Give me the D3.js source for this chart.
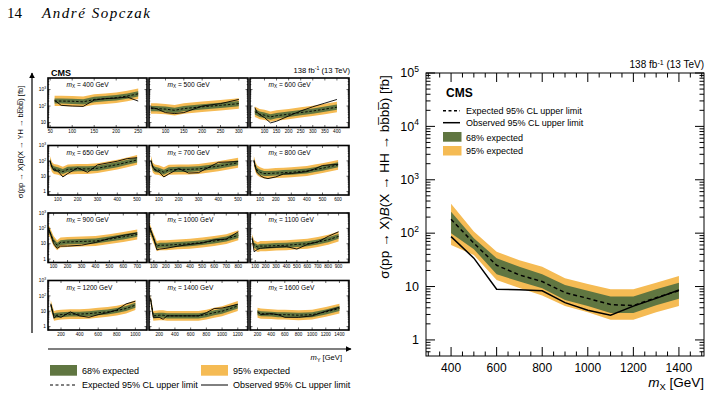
<!DOCTYPE html>
<html>
<head>
<meta charset="utf-8">
<script src="https://cdn.jsdelivr.net/npm/d3@7"></script>
<style>
body{margin:0;background:#fff;}
svg text{font-family:"Liberation Sans",Arial,Helvetica,sans-serif;fill:#000;}
</style>
</head>
<body>
<svg id="fig" width="711" height="397"></svg>
<script>
"use strict";

var COL68 = "#607641";   // 68% band
var COL95 = "#F5BB54";   // 95% band

// ---------- right plot: X -> HH -> bbbb ----------
var mainMX   = [400, 500, 600, 700, 800, 900, 1000, 1100, 1200, 1300, 1400];
var mainExp  = [182, 65, 25, 16.5, 12.4, 7.7, 6.0, 4.6, 4.4, 6.2, 8.4];
var mainObs  = [86, 34, 8.9, 8.7, 8.3, 5.0, 3.6, 2.9, 4.3, 6.0, 8.6];
var main68Lo = [100, 50, 17, 12.4, 9.3, 5.6, 4.3, 3.2, 3.2, 4.45, 5.9];
var main68Hi = [253, 80, 34, 23.6, 17, 10.7, 8.3, 6.5, 6.5, 8.9, 11.8];
var main95Lo = [60, 39, 13.3, 9.4, 6.8, 4.3, 3.3, 2.4, 2.4, 3.3, 4.3];
var main95Hi = [355, 107, 45, 31, 23.6, 14.3, 11.2, 8.9, 8.9, 11.8, 15.8];
var mainXTicks = [400, 600, 800, 1000, 1200, 1400];
var mainYTicks = [1, 10, 100, 1000, 10000, 100000];

// ---------- left plot: X -> YH -> bbbb, one entry per mX ----------
var smallMX = [400, 500, 600, 650, 700, 800, 900, 1000, 1100, 1200, 1400, 1600];
var smallMY = [
    [60, 75, 100, 125, 150, 175, 200, 225, 250],
    [60, 75, 100, 125, 150, 200, 250, 300],
    [60, 70, 80, 100, 125, 150, 200, 250, 300, 350, 400],
    [60, 70, 80, 100, 125, 150, 200, 250, 300, 400, 450, 500],
    [60, 70, 80, 100, 125, 150, 200, 250, 300, 400, 500],
    [60, 70, 80, 100, 125, 150, 200, 250, 300, 400, 450, 500, 600],
    [60, 80, 100, 125, 150, 200, 300, 400, 500, 600, 700],
    [60, 80, 100, 125, 150, 200, 300, 400, 500, 600, 700, 800],
    [70, 90, 125, 150, 200, 300, 400, 500, 600, 700, 800, 900],
    [90, 125, 150, 200, 300, 400, 500, 600, 700, 800, 900, 1000],
    [90, 125, 200, 250, 300, 500, 700, 800, 900, 1000, 1200],
    [200, 250, 400, 500, 600, 800, 1000, 1200, 1400]
];
var smallExp = [
    [200, 200, 195, 180, 250, 280, 320, 400, 550],
    [70, 70, 65, 55, 70, 90, 110, 140],
    [45, 38, 32, 28, 22, 26, 32, 40, 50, 65, 85],
    [95, 40, 30, 26, 20, 28, 30, 30, 33, 57, 80, 115],
    [100, 35, 28, 25, 18, 26, 28, 28, 30, 45, 75],
    [100, 40, 25, 18, 15, 15, 16, 17, 18, 22, 27, 33, 55],
    [100, 40, 15, 8, 12, 13, 14, 15, 20, 28, 40],
    [130, 50, 20, 7, 8, 8, 9, 10, 12, 15, 20, 35],
    [20, 8, 6, 7, 7, 7.5, 8, 9, 10, 13, 18, 30],
    [25, 5, 5.5, 6, 6.5, 6.5, 7, 8, 9, 11, 15, 25],
    [60, 5, 5.5, 5.5, 5, 5, 5, 6, 8, 10, 22],
    [8, 7, 6.5, 6, 6, 5.5, 6, 9, 15]
];
var smallObs = [
    [220, 110, 100, 95, 230, 280, 300, 350, 200],
    [80, 70, 40, 35, 40, 100, 140, 250],
    [80, 40, 30, 20, 9.5, 12, 25, 50, 90, 150, 250],
    [100, 40, 25, 22, 9, 15, 35, 18, 55, 95, 140, 160],
    [100, 40, 25, 20, 9, 14, 32, 16, 17, 80, 90],
    [110, 35, 18, 11, 8, 7, 9, 14, 15, 20, 30, 50, 60],
    [120, 40, 10, 5, 7, 7, 8, 12, 22, 35, 50],
    [150, 60, 20, 4, 4.5, 5, 7, 9, 11, 18, 20, 60],
    [25, 3, 4.5, 5, 5.5, 6, 6.5, 4.5, 9, 13, 30, 60],
    [30, 3.5, 5, 4, 9, 5, 4, 6, 8, 12, 30, 45],
    [70, 4, 4, 3, 5, 5, 5, 8, 15, 16, 28],
    [10, 6, 7, 6, 4, 4, 5, 10, 18]
];
var small68Lo = [
    [140, 140, 135, 125, 170, 195, 220, 280, 380],
    [48, 48, 45, 38, 48, 62, 76, 97],
    [31, 26, 22, 19, 15, 18, 22, 28, 34, 45, 59],
    [66, 28, 21, 18, 14, 19, 21, 21, 23, 39, 55, 79],
    [69, 24, 19, 17, 12.4, 18, 19, 19, 21, 31, 52],
    [69, 28, 17, 12.4, 10.3, 10.3, 11, 12, 12.4, 15, 19, 23, 38],
    [69, 28, 10.3, 5.5, 8.3, 9, 9.7, 10.3, 14, 19, 28],
    [90, 34, 14, 4.8, 5.5, 5.5, 6.2, 6.9, 8.3, 10.3, 14, 24],
    [14, 5.5, 4.1, 4.8, 4.8, 5.2, 5.5, 6.2, 6.9, 9, 12.4, 21],
    [17, 3.4, 3.8, 4.1, 4.5, 4.5, 4.8, 5.5, 6.2, 7.6, 10.3, 17],
    [41, 3.4, 3.8, 3.8, 3.4, 3.4, 3.4, 4.1, 5.5, 6.9, 15],
    [5.5, 4.8, 4.5, 4.1, 4.1, 3.8, 4.1, 6.2, 10.3]
];
var small68Hi = [
    [290, 290, 280, 260, 360, 400, 460, 580, 800],
    [100, 100, 95, 80, 100, 130, 160, 200],
    [65, 55, 46, 40, 32, 38, 46, 58, 72, 94, 123],
    [138, 58, 44, 38, 29, 41, 44, 44, 48, 83, 116, 167],
    [145, 51, 41, 36, 26, 38, 41, 41, 44, 65, 109],
    [145, 58, 36, 26, 22, 22, 23, 25, 26, 32, 39, 48, 80],
    [145, 58, 22, 11.6, 17, 19, 20, 22, 29, 41, 58],
    [190, 72, 29, 10, 11.6, 11.6, 13, 14.5, 17, 22, 29, 51],
    [29, 11.6, 8.7, 10, 10, 11, 11.6, 13, 14.5, 19, 26, 43],
    [36, 7.3, 8, 8.7, 9.4, 9.4, 10, 11.6, 13, 16, 22, 36],
    [87, 7.3, 8, 8, 7.3, 7.3, 7.3, 8.7, 11.6, 14.5, 32],
    [11.6, 10, 9.4, 8.7, 8.7, 8, 8.7, 13, 22]
];
var small95Lo = [
    [100, 100, 95, 90, 120, 135, 155, 195, 270],
    [34, 34, 32, 27, 34, 44, 54, 68],
    [22, 19, 16, 14, 11, 13, 16, 20, 25, 32, 42],
    [45, 19, 14, 12.4, 9.5, 13, 14, 14, 16, 27, 38, 55],
    [48, 17, 13, 12, 8.6, 12.4, 13, 13, 14, 21, 36],
    [48, 19, 12, 8.6, 7.1, 7.1, 7.6, 8.1, 8.6, 10.5, 13, 16, 26],
    [48, 19, 7.1, 3.8, 5.7, 6.2, 6.7, 7.1, 9.5, 13, 19],
    [62, 24, 9.5, 3.3, 3.8, 3.8, 4.3, 4.8, 5.7, 7.1, 9.5, 17],
    [9.5, 3.8, 2.9, 3.3, 3.3, 3.6, 3.8, 4.3, 4.8, 6.2, 8.6, 14],
    [12, 2.4, 2.6, 2.9, 3.1, 3.1, 3.3, 3.8, 4.3, 5.2, 7.1, 12],
    [29, 2.4, 2.6, 2.6, 2.4, 2.4, 2.4, 2.9, 3.8, 4.8, 10.5],
    [3.8, 3.3, 3.1, 2.9, 2.9, 2.6, 2.9, 4.3, 7.1]
];
var small95Hi = [
    [420, 420, 400, 380, 520, 580, 670, 840, 1150],
    [145, 145, 135, 115, 145, 190, 230, 300],
    [95, 80, 67, 59, 46, 55, 67, 84, 105, 136, 180],
    [200, 84, 63, 55, 42, 59, 63, 63, 69, 120, 168, 240],
    [210, 74, 59, 52, 38, 55, 59, 59, 63, 95, 158],
    [210, 84, 52, 38, 31, 31, 34, 36, 38, 46, 57, 69, 115],
    [210, 84, 32, 17, 25, 27, 29, 32, 42, 59, 84],
    [270, 105, 42, 15, 17, 17, 19, 21, 25, 32, 42, 74],
    [42, 17, 12.6, 15, 15, 16, 17, 19, 21, 27, 38, 63],
    [52, 10.5, 11.5, 12.6, 13.6, 13.6, 14.7, 17, 19, 23, 31, 52],
    [125, 10.5, 11.5, 11.5, 10.5, 10.5, 10.5, 12.6, 17, 21, 46],
    [17, 15, 13.6, 12.6, 12.6, 11.5, 12.6, 19, 31]
];
var smallXDomain = [
    [45, 270], [55, 325], [40, 450],
    [50, 550], [50, 550], [35, 670],
    [60, 770], [60, 880], [50, 1000],
    [60, 1125], [70, 1330], [90, 1540]
];
var smallXTicks = [
    [50, 100, 150, 200, 250], [100, 150, 200, 250, 300], [100, 150, 200, 250, 300, 350, 400],
    [100, 200, 300, 400, 500], [100, 200, 300, 400, 500], [100, 200, 300, 400, 500, 600],
    [100, 200, 300, 400, 500, 600, 700], [100, 200, 300, 400, 500, 600, 700, 800],
    [100, 200, 300, 400, 500, 600, 700, 800, 900],
    [200, 400, 600, 800, 1000], [200, 400, 600, 800, 1000, 1200],
    [200, 400, 600, 800, 1000, 1200, 1400]
];
var smallYDomainTop = [5, 5000];      // first row
var smallYDomain = [0.6, 1000];       // other rows
var smallYTicksTop = [10, 100, 1000];
var smallYTicks = [1, 10, 100, 1000];

var svg = d3.select("#fig");

/**
 * 10^n 形式的刻度文字
 */
function powLabel(sel, v, fs) {
    if (v < 100) {
        sel.text(String(v));
        return;
    }
    var n = Math.round(Math.log10(v));
    sel.text("10");
    sel.append("tspan").attr("dy", -fs * 0.42).attr("font-size", fs * 0.68).text(n);
}

function minorLogTicks(domain) {
    var out = [];
    for (var e = -1; e <= 5; e++) {
        for (var k = 2; k <= 9; k++) {
            var v = k * Math.pow(10, e);
            if (v > domain[0] && v < domain[1]) out.push(v);
        }
    }
    return out;
}

// 轴标题  m_X [GeV] 之类
function massTitle(sel, sub, rest) {
    sel.append("tspan").attr("font-style", "italic").text("m");
    sel.append("tspan").attr("font-size", "0.7em").attr("dy", "0.3em").text(sub);
    sel.append("tspan").attr("dy", "-0.21em").text(rest);
}

// ---------- page header ----------
svg.append("text").attr("x", 7).attr("y", 18)
    .style("font-family", "'Liberation Serif',serif").attr("font-size", 15).text("14");
svg.append("text").attr("x", 42).attr("y", 18)
    .style("font-family", "'Liberation Serif',serif").attr("font-size", 15)
    .attr("font-style", "italic").attr("textLength", 108).attr("lengthAdjust", "spacing")
    .text("André Sopczak");

// ---------- left figure ----------
var colLeft = [48, 149, 250];
var rowTop = [78, 145.5, 213, 280.5];
var pw = 99, ph = 49.5;

function drawSmallPanel(i) {
    var col = i % 3, row = Math.floor(i / 3);
    var x0 = colLeft[col], y0 = rowTop[row];
    var yDom = row === 0 ? smallYDomainTop : smallYDomain;
    var x = d3.scaleLinear().domain(smallXDomain[i]).range([x0, x0 + pw]);
    var y = d3.scaleLog().domain(yDom).range([y0 + ph, y0]);

    var g = svg.append("g").attr("class", "panel");
    var clipId = "clip" + i;
    g.append("clipPath").attr("id", clipId).append("rect")
        .attr("x", x0).attr("y", y0).attr("width", pw).attr("height", ph);

    var pts = smallMY[i].map(function(m, j) {
        return {m: m, exp: smallExp[i][j], obs: smallObs[i][j],
            lo68: small68Lo[i][j], hi68: small68Hi[i][j],
            lo95: small95Lo[i][j], hi95: small95Hi[i][j]};
    });
    var inner = g.append("g").attr("clip-path", "url(#" + clipId + ")");
    inner.append("path").datum(pts).attr("fill", COL95)
        .attr("d", d3.area().x(function(d) { return x(d.m); })
            .y0(function(d) { return y(d.lo95); }).y1(function(d) { return y(d.hi95); }));
    inner.append("path").datum(pts).attr("fill", COL68)
        .attr("d", d3.area().x(function(d) { return x(d.m); })
            .y0(function(d) { return y(d.lo68); }).y1(function(d) { return y(d.hi68); }));
    inner.append("path").datum(pts).attr("fill", "none").attr("stroke", "#000")
        .attr("stroke-width", 0.9).attr("stroke-dasharray", "2.5,1.8")
        .attr("d", d3.line().x(function(d) { return x(d.m); }).y(function(d) { return y(d.exp); }));
    inner.append("path").datum(pts).attr("fill", "none").attr("stroke", "#000")
        .attr("stroke-width", 0.9)
        .attr("d", d3.line().x(function(d) { return x(d.m); }).y(function(d) { return y(d.obs); }));

    // ticks
    var tk = g.append("g").attr("stroke", "#000").attr("stroke-width", 0.6);
    smallXTicks[i].forEach(function(t) {
        tk.append("line").attr("x1", x(t)).attr("x2", x(t)).attr("y1", y0 + ph).attr("y2", y0 + ph - 2.5);
        tk.append("line").attr("x1", x(t)).attr("x2", x(t)).attr("y1", y0).attr("y2", y0 + 2.5);
    });
    var yt = row === 0 ? smallYTicksTop : smallYTicks;
    yt.forEach(function(t) {
        tk.append("line").attr("x1", x0).attr("x2", x0 + 2.5).attr("y1", y(t)).attr("y2", y(t));
        tk.append("line").attr("x1", x0 + pw).attr("x2", x0 + pw - 2.5).attr("y1", y(t)).attr("y2", y(t));
    });
    minorLogTicks(yDom).forEach(function(t) {
        tk.append("line").attr("x1", x0).attr("x2", x0 + 1.3).attr("y1", y(t)).attr("y2", y(t));
        tk.append("line").attr("x1", x0 + pw).attr("x2", x0 + pw - 1.3).attr("y1", y(t)).attr("y2", y(t));
    });

    g.append("rect").attr("x", x0).attr("y", y0).attr("width", pw).attr("height", ph)
        .attr("fill", "none").attr("stroke", "#000").attr("stroke-width", 1.6);

    // x tick labels
    smallXTicks[i].forEach(function(t) {
        g.append("text").attr("x", x(t)).attr("y", y0 + ph + 5.5)
            .attr("text-anchor", "middle").attr("font-size", 4.6).text(t);
    });
    // y tick labels, first column only
    if (col === 0) {
        yt.forEach(function(t) {
            g.append("text").attr("x", x0 - 2).attr("y", y(t) + 1.7)
                .attr("text-anchor", "end").attr("font-size", 4.8)
                .call(powLabel, t, 4.8);
        });
    }
    // mX label
    g.append("text").attr("x", x0 + 18.5).attr("y", y0 + 9).attr("font-size", 6.6)
        .call(massTitle, "X", " = " + smallMX[i] + " GeV");
}

for (var i = 0; i < smallMX.length; i++) {
    drawSmallPanel(i);
}

svg.append("text").attr("x", 51).attr("y", 76).attr("font-size", 9).attr("font-weight", "bold").text("CMS");
svg.append("text").attr("x", 350).attr("y", 73).attr("font-size", 7.6).attr("text-anchor", "end")
    .call(function(s) {
        s.append("tspan").text("138 fb");
        s.append("tspan").attr("dy", -2.6).attr("font-size", 5.2).text("-1");
        s.append("tspan").attr("dy", 2.6).text(" (13 TeV)");
    });

// arrows
var defs = svg.append("defs");
defs.append("marker").attr("id", "arr").attr("viewBox", "0 0 10 10").attr("refX", 9).attr("refY", 5)
    .attr("markerWidth", 5).attr("markerHeight", 5).attr("orient", "auto")
    .append("path").attr("d", "M0,0 L10,5 L0,10 Z").attr("fill", "#000");
svg.append("line").attr("x1", 32).attr("y1", 333).attr("x2", 32).attr("y2", 73)
    .attr("stroke", "#000").attr("stroke-width", 1.2).attr("marker-end", "url(#arr)");
svg.append("line").attr("x1", 48).attr("y1", 349).attr("x2", 351).attr("y2", 349)
    .attr("stroke", "#000").attr("stroke-width", 1.2).attr("marker-end", "url(#arr)");

svg.append("text").attr("transform", "translate(23,142) rotate(-90)").attr("text-anchor", "middle")
    .attr("font-size", 7.5)
    .call(function(s) {
        s.append("tspan").text("σ(pp → X)");
        s.append("tspan").attr("font-style", "italic").text("B");
        s.append("tspan").text("(X → YH → bb\u0305bb\u0305) [fb]");
    });
svg.append("text").attr("x", 342).attr("y", 360).attr("text-anchor", "end").attr("font-size", 7.6)
    .call(massTitle, "Y", " [GeV]");

// left legend
var legL = svg.append("g");
legL.append("rect").attr("x", 50).attr("y", 365).attr("width", 27).attr("height", 10.7).attr("fill", COL68);
legL.append("text").attr("x", 82).attr("y", 374).attr("font-size", 9).text("68% expected");
legL.append("rect").attr("x", 201).attr("y", 365).attr("width", 27).attr("height", 10.7).attr("fill", COL95);
legL.append("text").attr("x", 233).attr("y", 374).attr("font-size", 9).text("95% expected");
legL.append("line").attr("x1", 50).attr("x2", 77).attr("y1", 385).attr("y2", 385)
    .attr("stroke", "#000").attr("stroke-width", 1).attr("stroke-dasharray", "3,2.5");
legL.append("text").attr("x", 82).attr("y", 388).attr("font-size", 9).text("Expected 95% CL upper limit");
legL.append("line").attr("x1", 201).attr("x2", 228).attr("y1", 385).attr("y2", 385)
    .attr("stroke", "#000").attr("stroke-width", 1);
legL.append("text").attr("x", 233).attr("y", 388).attr("font-size", 9).text("Observed 95% CL upper limit");

// ---------- right figure ----------
var M = {left: 426, right: 704, top: 73, bottom: 356};
var xMain = d3.scaleLinear().domain([290, 1510]).range([M.left, M.right]);
var yMain = d3.scaleLog().domain([0.5, 1e5]).range([M.bottom, M.top]);

var mainPts = mainMX.map(function(m, j) {
    return {m: m, exp: mainExp[j], obs: mainObs[j], lo68: main68Lo[j], hi68: main68Hi[j],
        lo95: main95Lo[j], hi95: main95Hi[j]};
});
var gm = svg.append("g");
gm.append("path").datum(mainPts).attr("fill", COL95)
    .attr("d", d3.area().x(function(d) { return xMain(d.m); })
        .y0(function(d) { return yMain(d.lo95); }).y1(function(d) { return yMain(d.hi95); }));
gm.append("path").datum(mainPts).attr("fill", COL68)
    .attr("d", d3.area().x(function(d) { return xMain(d.m); })
        .y0(function(d) { return yMain(d.lo68); }).y1(function(d) { return yMain(d.hi68); }));
gm.append("path").datum(mainPts).attr("fill", "none").attr("stroke", "#000")
    .attr("stroke-width", 1.5).attr("stroke-dasharray", "4,3")
    .attr("d", d3.line().x(function(d) { return xMain(d.m); }).y(function(d) { return yMain(d.exp); }));
gm.append("path").datum(mainPts).attr("fill", "none").attr("stroke", "#000")
    .attr("stroke-width", 1.5)
    .attr("d", d3.line().x(function(d) { return xMain(d.m); }).y(function(d) { return yMain(d.obs); }));

// ticks on all four sides
var tm = gm.append("g").attr("stroke", "#000").attr("stroke-width", 1);
d3.range(300, 1501, 50).forEach(function(t) {
    var len = mainXTicks.indexOf(t) >= 0 ? 9 : 4.5;
    tm.append("line").attr("x1", xMain(t)).attr("x2", xMain(t)).attr("y1", M.bottom).attr("y2", M.bottom - len);
    tm.append("line").attr("x1", xMain(t)).attr("x2", xMain(t)).attr("y1", M.top).attr("y2", M.top + len);
});
mainYTicks.forEach(function(t) {
    tm.append("line").attr("x1", M.left).attr("x2", M.left + 9).attr("y1", yMain(t)).attr("y2", yMain(t));
    tm.append("line").attr("x1", M.right).attr("x2", M.right - 9).attr("y1", yMain(t)).attr("y2", yMain(t));
});
minorLogTicks([0.5, 1e5]).forEach(function(t) {
    tm.append("line").attr("x1", M.left).attr("x2", M.left + 4.5).attr("y1", yMain(t)).attr("y2", yMain(t));
    tm.append("line").attr("x1", M.right).attr("x2", M.right - 4.5).attr("y1", yMain(t)).attr("y2", yMain(t));
});
gm.append("rect").attr("x", M.left).attr("y", M.top).attr("width", M.right - M.left)
    .attr("height", M.bottom - M.top).attr("fill", "none").attr("stroke", "#000").attr("stroke-width", 1);

mainXTicks.forEach(function(t) {
    gm.append("text").attr("x", xMain(t)).attr("y", 372).attr("text-anchor", "middle")
        .attr("font-size", 12).text(t);
});
mainYTicks.forEach(function(t) {
    gm.append("text").attr("x", 419).attr("y", yMain(t) + 4.3).attr("text-anchor", "end")
        .attr("font-size", 12.5).call(powLabel, t, 12.5);
});
gm.append("text").attr("x", 704).attr("y", 387).attr("text-anchor", "end").attr("font-size", 13.5)
    .call(massTitle, "X", " [GeV]");
gm.append("text").attr("transform", "translate(389,177) rotate(-90)").attr("text-anchor", "middle")
    .attr("font-size", 13.5)
    .call(function(s) {
        s.append("tspan").text("σ(pp → X)");
        s.append("tspan").attr("font-style", "italic").text("B");
        s.append("tspan").text("(X → HH → bb\u0305bb\u0305) [fb]");
    });
gm.append("text").attr("x", 704).attr("y", 68).attr("text-anchor", "end").attr("font-size", 10)
    .call(function(s) {
        s.append("tspan").text("138 fb");
        s.append("tspan").attr("dy", -3.5).attr("font-size", 7).text("-1");
        s.append("tspan").attr("dy", 3.5).text(" (13 TeV)");
    });
gm.append("text").attr("x", 446).attr("y", 97).attr("font-size", 12).attr("font-weight", "bold").text("CMS");

// legend of right figure
var legR = gm.append("g");
legR.append("line").attr("x1", 443).attr("x2", 460).attr("y1", 110.7).attr("y2", 110.7)
    .attr("stroke", "#000").attr("stroke-width", 1.5).attr("stroke-dasharray", "3,2.5");
legR.append("text").attr("x", 466).attr("y", 114).attr("font-size", 9).text("Expected 95% CL upper limit");
legR.append("line").attr("x1", 443).attr("x2", 460).attr("y1", 122.7).attr("y2", 122.7)
    .attr("stroke", "#000").attr("stroke-width", 1.5);
legR.append("text").attr("x", 466).attr("y", 126).attr("font-size", 9).text("Observed 95% CL upper limit");
legR.append("rect").attr("x", 443).attr("y", 132).attr("width", 18.5).attr("height", 9.7).attr("fill", COL68);
legR.append("text").attr("x", 466).attr("y", 140.5).attr("font-size", 9).text("68% expected");
legR.append("rect").attr("x", 443).attr("y", 146).attr("width", 18.5).attr("height", 9.5).attr("fill", COL95);
legR.append("text").attr("x", 466).attr("y", 154.3).attr("font-size", 9).text("95% expected");
</script>
</body>
</html>
